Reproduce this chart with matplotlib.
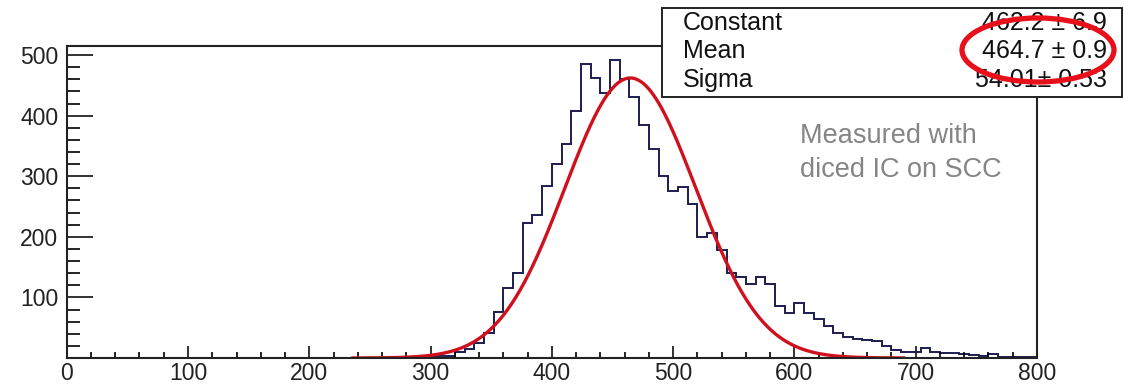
import matplotlib
matplotlib.use("Agg")
import matplotlib.pyplot as plt
from matplotlib.patches import Rectangle, Ellipse
from matplotlib.ticker import MultipleLocator
import numpy as np

# histogram: 100 bins of width 8 over 0..800 (ROOT default)
bin_edges = np.linspace(0, 800, 101)
counts = [0] * 37 + [
    2, 4, 3, 10, 15, 24, 41, 76, 115, 140,
    223, 236, 284, 321, 353, 408, 486, 463, 437, 492,
    461, 431, 385, 345, 300, 276, 282, 255, 200, 206,
    178, 140, 134, 122, 134, 122, 86, 74, 90, 74,
    65, 53, 42, 34, 31, 29, 28, 19, 13, 10,
    10, 16, 10, 9, 9, 7, 5, 3, 6, 2,
    2, 2, 1,
]

# gaus fit parameters as printed in the stats box
fit_const = 462.2
fit_mean = 464.7
fit_sigma = 54.01
fit_range = (236, 690)

stat_names = ["Constant", "Mean", "Sigma"]
stat_values = ["462.2 \u00b1 6.9", "464.7 \u00b1 0.9", "54.01\u00b1 0.53"]
note_lines = ["Measured with", "diced IC on SCC"]

W, H = 1124, 386
plt.rcParams['font.family'] = ['Liberation Sans', 'DejaVu Sans']
fig = plt.figure(figsize=(W / 100, H / 100), dpi=100)
ax = fig.add_axes([66.7 / W, 1 - 358 / H, (1037 - 66.7) / W, (358 - 46) / H])

ax.stairs(counts, bin_edges, color="#1c1c50", lw=1.4)
xf = np.linspace(fit_range[0], fit_range[1], 400)
yf = fit_const * np.exp(-0.5 * ((xf - fit_mean) / fit_sigma) ** 2)
ax.plot(xf, yf, color="#d0101c", lw=2.4)

ax.set_xlim(0, 800)
ax.set_ylim(0, 515)
ax.xaxis.set_major_locator(MultipleLocator(100))
ax.xaxis.set_minor_locator(MultipleLocator(20))
ax.yaxis.set_minor_locator(MultipleLocator(20))
ax.set_yticks([100, 200, 300, 400, 500])
ax.tick_params(axis="x", which="major", direction="in", length=8.6, width=1.3, labelsize=16.5, pad=3, colors="#222222")
ax.tick_params(axis="x", which="minor", direction="in", length=4.3, width=1.2)
ax.tick_params(axis="y", which="major", direction="in", length=19, width=1.3, labelsize=16.5, pad=6, colors="#222222")
ax.tick_params(axis="y", which="minor", direction="in", length=9.4, width=1.2)
for s in ax.spines.values():
    s.set_linewidth(1.5)
    s.set_color("#222222")

# stats box
fig.patches.append(Rectangle((662 / W, 1 - 97 / H), (1122 - 662) / W, (97 - 8) / H,
                             transform=fig.transFigure, facecolor="white",
                             edgecolor="#222222", lw=1.4, zorder=2))
for i, (name, val) in enumerate(zip(stat_names, stat_values)):
    yy = 1 - (23 + 28.5 * i) / H
    fig.text(683 / W, yy, name, fontsize=18, ha="left", va="center", color="#111111", zorder=3)
    fig.text(1107 / W, yy, val, fontsize=18, ha="right", va="center", color="#111111", zorder=3)

fig.patches.append(Ellipse((1038 / W, 1 - 50 / H), 152 / W, 64 / H, transform=fig.transFigure,
                           fill=False, edgecolor="#e8101a", lw=3.8, zorder=4))

for i, line in enumerate(note_lines):
    fig.text(800 / W, 1 - (143 + 34 * i) / H, line, fontsize=19.5, color="#858585",
             ha="left", va="baseline")

fig.savefig("out.png", dpi=100)
